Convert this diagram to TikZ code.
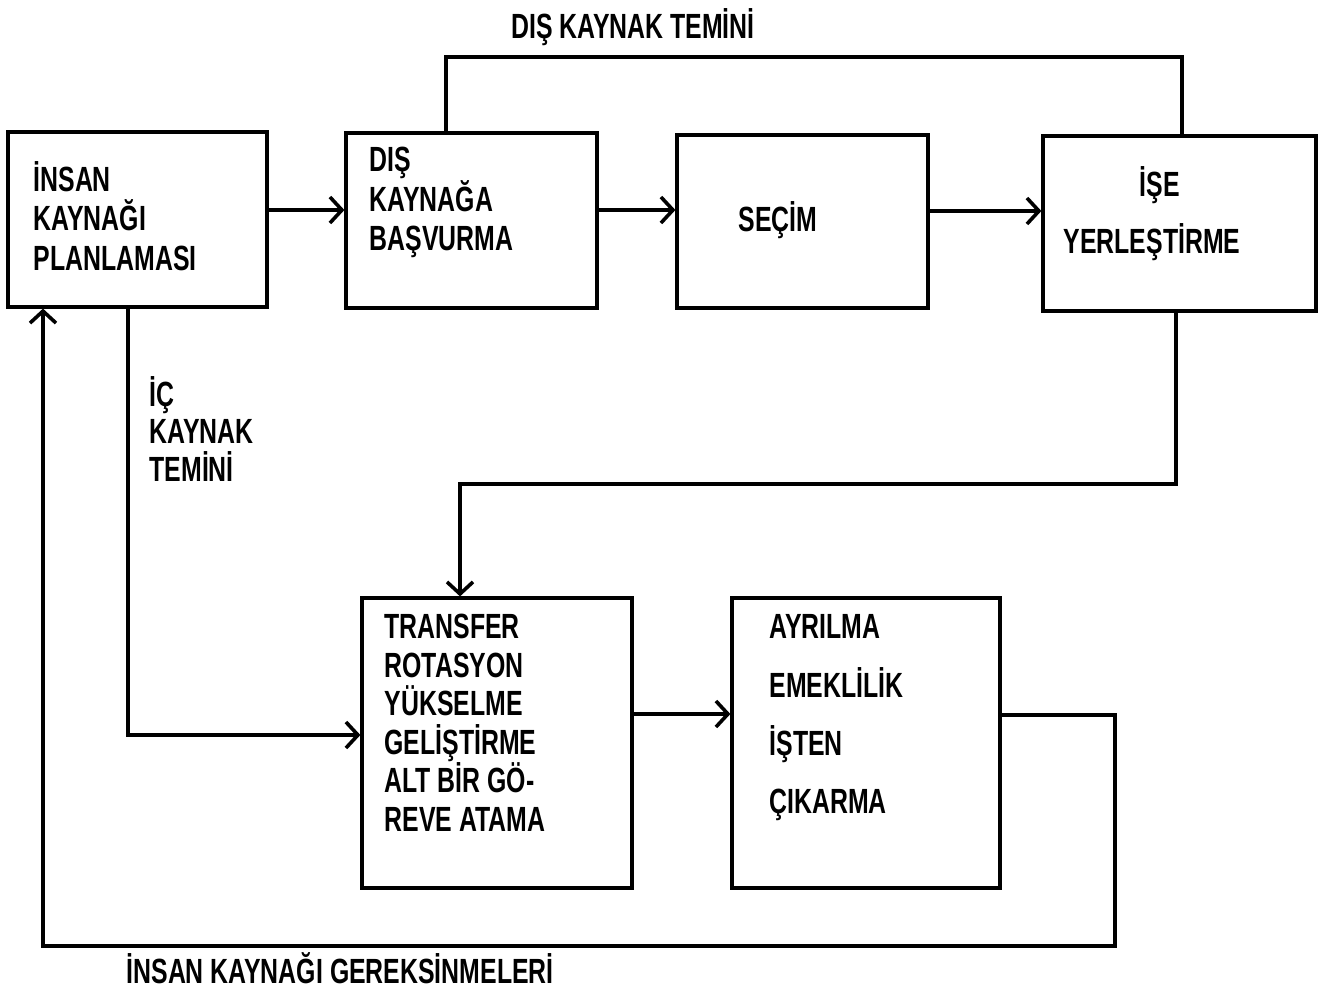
\documentclass[tikz,border=0pt]{standalone}
\usepackage{fontspec}
\setmainfont{Liberation Sans}[FakeStretch=0.71]
\usetikzlibrary{arrows.meta}
\begin{document}
\begin{tikzpicture}[x=1pt,y=-1pt,
  line width=3.2pt,
  box/.style={draw, line width=3.2pt, inner sep=0pt},
  lbl/.style={anchor=base west, inner sep=0pt, font=\fontsize{35}{39}\selectfont\bfseries},
  arr/.style={-{Straight Barb[length=12pt,width=26pt,line width=3.6pt]}},
  conn/.style={line width=3.2pt}
]
\useasboundingbox (0,0) rectangle (1322,996);

% boxes
\node[box, minimum width=259pt, minimum height=175pt] (b1) at (137.5,219.5) {};
\node[box, minimum width=251pt, minimum height=175pt] (b2) at (471.5,220.5) {};
\node[box, minimum width=251pt, minimum height=173pt] (b3) at (802.5,221.5) {};
\node[box, minimum width=273pt, minimum height=175pt] (b4) at (1179.5,223.5) {};
\node[box, minimum width=270pt, minimum height=290pt] (b5) at (497,743) {};
\node[box, minimum width=268pt, minimum height=290pt] (b6) at (866,743) {};

% box texts
\node[lbl] (t1a) at (32,191) {İNSAN};
\node[lbl] (t1b) at (32,230) {KAYNAĞI};
\node[lbl] (t1c) at (32,270) {PLANLAMASI};

\node[lbl] (t2a) at (368,171) {DIŞ};
\node[lbl] (t2b) at (368,211) {KAYNAĞA};
\node[lbl] (t2c) at (368,250) {BAŞVURMA};

\node[lbl] (t3a) at (737,231) {SEÇİM};

\node[lbl, anchor=base] (t4a) at (1160,196) {İŞE};
\node[lbl] (t4b) at (1062,253) {YERLEŞTİRME};

\node[lbl] (t5a) at (383,638) {TRANSFER};
\node[lbl] (t5b) at (383,677) {ROTASYON};
\node[lbl] (t5c) at (383,715) {YÜKSELME};
\node[lbl] (t5d) at (383,754) {GELİŞTİRME};
\node[lbl] (t5e) at (383,792) {ALT BİR GÖ-};
\node[lbl] (t5f) at (383,831) {REVE ATAMA};

\node[lbl] (t6a) at (768,638) {AYRILMA};
\node[lbl] (t6b) at (768,697) {EMEKLİLİK};
\node[lbl] (t6c) at (768,755) {İŞTEN};
\node[lbl] (t6d) at (768,813) {ÇIKARMA};

% edge labels
\node[lbl, anchor=base] (ldis) at (633,38) {DIŞ KAYNAK TEMİNİ};
\node[lbl] (lica) at (148,406) {İÇ};
\node[lbl] (licb) at (148,443) {KAYNAK};
\node[lbl] (licc) at (148,481) {TEMİNİ};
\node[lbl] (lger) at (125,983) {İNSAN KAYNAĞI GEREKSİNMELERİ};

% helper coordinates
\coordinate (r1) at (0,210);
\coordinate (r2) at (0,211);
\coordinate (dt1) at (446,57);
\coordinate (dt2) at (1182,57);
\coordinate (m1) at (1176,484);
\coordinate (m2) at (460,484);
\coordinate (r3) at (0,714);
\coordinate (f1) at (1115,715);
\coordinate (f2) at (1115,946);
\coordinate (f3) at (43,946);
\coordinate (i1) at (128,735);

% connectors
\draw[arr] (b1.east |- r1) -- (b2.west |- r1);
\draw[arr] (b2.east |- r1) -- (b3.west |- r1);
\draw[arr] (b3.east |- r2) -- (b4.west |- r2);
\draw[conn] (b2.north -| dt1) -- (dt1) -- (dt2) -- (b4.north -| dt2);
\draw[arr] (b4.south -| m1) -- (m1) -- (m2) -- (b5.north -| m2);
\draw[arr] (b5.east |- r3) -- (b6.west |- r3);
\draw[arr] (b6.east |- f1) -- (f1) -- (f2) -- (f3) -- (b1.south -| f3);
\draw[arr] (b1.south -| i1) -- (i1) -- (b5.west |- i1);
\end{tikzpicture}
\end{document}
